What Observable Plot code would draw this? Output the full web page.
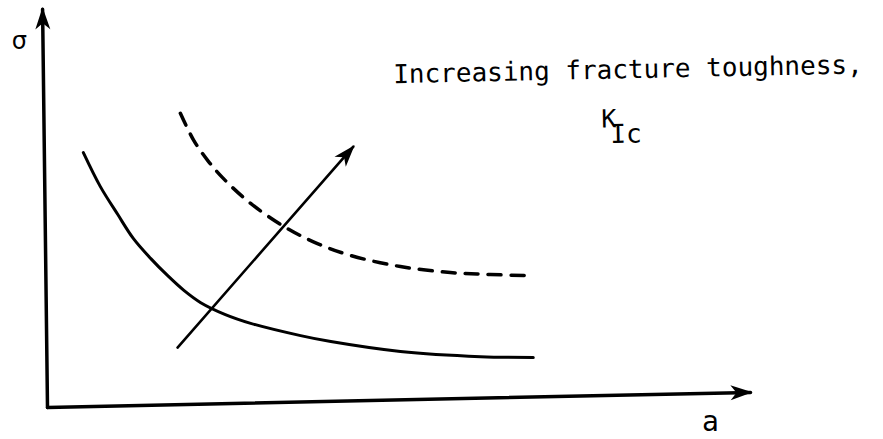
<!DOCTYPE html>
<html><head><meta charset="utf-8">
<script src="https://cdn.jsdelivr.net/npm/d3@7"></script>
<script src="https://cdn.jsdelivr.net/npm/@observablehq/plot@0.6"></script>
<style>body{margin:0;background:#fff}</style>
</head><body><div id="chart"></div>
<script>
// Schematic: stress σ vs crack length a (arbitrary units 0–10)
const lowToughA = [0.51, 0.75, 1.00, 1.22, 1.47, 1.71, 1.94, 2.18, 2.53, 2.89, 3.60, 4.03, 5.02, 6.16, 6.91];
const lowToughS = [6.42, 5.57, 4.86, 4.26, 3.75, 3.32, 2.95, 2.64, 2.34, 2.12, 1.81, 1.66, 1.41, 1.28, 1.26];

const highToughA = [1.89, 2.08, 2.28, 2.49, 2.89, 3.41, 3.84, 4.31, 5.02, 5.73, 6.30, 6.87];
const highToughS = [7.41, 6.73, 6.22, 5.79, 5.14, 4.51, 4.13, 3.83, 3.55, 3.40, 3.35, 3.32];

const trendA = [1.85, 4.35];
const trendS = [1.51, 6.57];

const axisName = ["a", "a", "σ", "σ"];
const axisA = [0, 10, 0, -0.07];
const axisS = [0, 0.38, 0, 10.03];

const titleText = ["Increasing fracture toughness,"];
const titleA = [4.92];
const titleS = [8.17];

const kText = ["K"];
const kA = [7.88];
const kS = [7.05];
const subText = ["Ic"];
const subA = [8.01];
const subS = [6.66];

const sigmaLabel = ["σ"];
const sigmaA = [-0.40];
const sigmaS = [9.04];
const aLabel = ["a"];
const aLabelA = [9.43];
const aLabelS = [-0.60];

const low = lowToughA.map((a, i) => ({a, s: lowToughS[i]}));
const high = highToughA.map((a, i) => ({a, s: highToughS[i]}));
const trend = trendA.map((a, i) => ({a, s: trendS[i]}));
const axes = axisA.map((a, i) => ({a, s: axisS[i], name: axisName[i]}));
const toRows = (t, A, S) => t.map((text, i) => ({text, a: A[i], s: S[i]}));

function stealth(color, context) {
  const doc = (context && context.document) || document;
  const ns = "http://www.w3.org/2000/svg";
  const m = doc.createElementNS(ns, "marker");
  m.setAttribute("viewBox", "-24 -12 28 24");
  m.setAttribute("markerWidth", "28");
  m.setAttribute("markerHeight", "24");
  m.setAttribute("markerUnits", "userSpaceOnUse");
  m.setAttribute("orient", "auto");
  m.setAttribute("overflow", "visible");
  const p = doc.createElementNS(ns, "path");
  p.setAttribute("d", "M2,0L-20,-7.5L-14,0L-20,7.5Z");
  p.setAttribute("fill", color || "black");
  p.setAttribute("stroke", "none");
  m.appendChild(p);
  return m;
}

function build(marker) {
  return Plot.plot({
    width: 883,
    height: 439,
    marginLeft: 47,
    marginRight: 133,
    marginTop: 10,
    marginBottom: 32,
    x: {domain: [0, 10], axis: null},
    y: {domain: [0, 10], axis: null},
    style: {background: "white", overflow: "visible"},
    marks: [
      Plot.line(axes, {x: "a", y: "s", z: "name", stroke: "black", strokeWidth: 3.5, markerEnd: marker}),
      Plot.line(low, {x: "a", y: "s", curve: "catmull-rom", stroke: "black", strokeWidth: 3}),
      Plot.line(high, {x: "a", y: "s", curve: "catmull-rom", stroke: "black", strokeWidth: 3.5, strokeDasharray: "13,10"}),
      Plot.line(trend, {x: "a", y: "s", stroke: "black", strokeWidth: 2.6, markerEnd: marker}),
      Plot.text(toRows(titleText, titleA, titleS), {x: "a", y: "s", text: "text", textAnchor: "start", lineAnchor: "bottom", rotate: -1.2, fontFamily: "DejaVu Sans Mono", fontSize: 26, fill: "black"}),
      Plot.text(toRows(kText, kA, kS), {x: "a", y: "s", text: "text", textAnchor: "start", lineAnchor: "bottom", rotate: -1.2, fontFamily: "DejaVu Sans Mono", fontSize: 25, fill: "black"}),
      Plot.text(toRows(subText, subA, subS), {x: "a", y: "s", text: "text", textAnchor: "start", lineAnchor: "bottom", rotate: -1.2, fontFamily: "DejaVu Sans Mono", fontSize: 26, fill: "black"}),
      Plot.text(toRows(sigmaLabel, sigmaA, sigmaS), {x: "a", y: "s", text: "text", textAnchor: "middle", lineAnchor: "bottom", fontFamily: "DejaVu Sans", fontSize: 24, fill: "black"}),
      Plot.text(toRows(aLabel, aLabelA, aLabelS), {x: "a", y: "s", text: "text", textAnchor: "middle", lineAnchor: "bottom", fontFamily: "DejaVu Sans Mono", fontSize: 28, fill: "black"})
    ]
  });
}

let chart;
try { chart = build(stealth); } catch (e) { chart = build("arrow"); }
document.getElementById("chart").appendChild(chart);
</script></body></html>
